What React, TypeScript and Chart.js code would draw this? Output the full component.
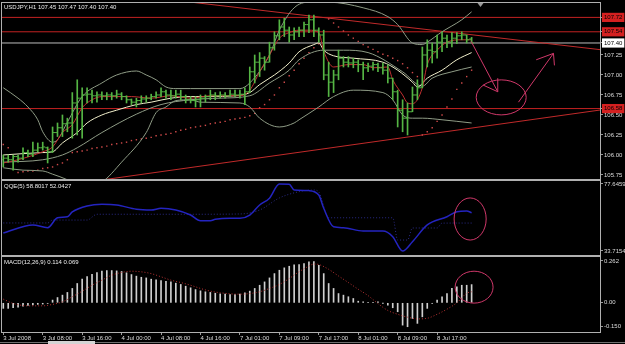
import React, { useEffect, useRef } from 'react';
import { Chart, registerables } from 'chart.js';

Chart.register(...registerables);

const FONT_FAMILY = "'Liberation Sans', Arial, sans-serif";
Chart.defaults.font.family = FONT_FAMILY;
Chart.defaults.font.size = 6;

// ---------------- time axis ----------------
const timeTickIdx = [0, 8, 16, 24, 32, 40, 48, 56, 64, 72, 80, 88];
const timeTickLabels = ['3 Jul 2008', '3 Jul 08:00', '3 Jul 16:00', '4 Jul 00:00', '4 Jul 08:00', '4 Jul 16:00', '7 Jul 01:00', '7 Jul 09:00', '7 Jul 17:00', '8 Jul 01:00', '8 Jul 09:00', '8 Jul 17:00'];
const xMin = -0.26;
const xMax = 121.04;

// ---------------- USDJPY H1 bars ----------------
const barOpen = [105.94, 105.96, 105.94, 105.98, 105.96, 106.03, 106.01, 106.06, 106.09, 106.09, 106.04, 106.28, 106.34, 106.39, 106.40, 106.65, 106.71, 106.75, 106.76, 106.74, 106.75, 106.74, 106.75, 106.74, 106.76, 106.73, 106.69, 106.66, 106.68, 106.70, 106.71, 106.73, 106.75, 106.79, 106.75, 106.74, 106.76, 106.73, 106.69, 106.68, 106.69, 106.71, 106.73, 106.75, 106.74, 106.75, 106.74, 106.76, 106.75, 106.76, 106.79, 107.04, 107.16, 107.21, 107.16, 107.34, 107.49, 107.60, 107.56, 107.50, 107.54, 107.56, 107.63, 107.69, 107.56, 107.50, 107.00, 106.91, 107.00, 107.21, 107.16, 107.15, 107.16, 107.13, 107.09, 107.11, 107.13, 107.09, 107.06, 106.96, 106.79, 106.56, 106.46, 106.54, 106.75, 106.84, 107.25, 107.31, 107.29, 107.41, 107.46, 107.41, 107.46, 107.49, 107.50, 107.45];
const barHigh = [106.00, 106.00, 106.00, 106.00, 106.09, 106.06, 106.16, 106.15, 106.16, 106.10, 106.35, 106.40, 106.50, 106.46, 106.78, 106.94, 106.84, 106.84, 106.81, 106.79, 106.79, 106.78, 106.78, 106.81, 106.78, 106.74, 106.70, 106.71, 106.74, 106.74, 106.76, 106.79, 106.84, 106.81, 106.81, 106.81, 106.81, 106.75, 106.73, 106.73, 106.75, 106.75, 106.81, 106.78, 106.79, 106.78, 106.81, 106.81, 106.81, 106.84, 107.10, 107.25, 107.28, 107.23, 107.41, 107.54, 107.69, 107.71, 107.60, 107.59, 107.60, 107.66, 107.75, 107.75, 107.59, 107.56, 107.16, 107.06, 107.31, 107.23, 107.23, 107.21, 107.19, 107.16, 107.15, 107.16, 107.15, 107.15, 107.13, 106.96, 106.81, 106.69, 106.65, 106.85, 106.94, 107.35, 107.44, 107.40, 107.50, 107.54, 107.50, 107.53, 107.53, 107.54, 107.50, 107.47];
const barLow = [105.85, 105.91, 105.81, 105.91, 105.94, 105.98, 105.98, 106.04, 106.06, 105.90, 106.03, 106.23, 106.23, 106.29, 106.21, 106.25, 106.21, 106.65, 106.65, 106.66, 106.69, 106.69, 106.69, 106.71, 106.69, 106.65, 106.63, 106.60, 106.65, 106.66, 106.69, 106.71, 106.73, 106.71, 106.69, 106.71, 106.69, 106.65, 106.65, 106.60, 106.60, 106.66, 106.69, 106.69, 106.71, 106.71, 106.73, 106.73, 106.71, 106.63, 106.78, 106.90, 106.98, 107.06, 107.16, 107.31, 107.44, 107.48, 107.41, 107.44, 107.48, 107.48, 107.53, 107.48, 107.41, 106.94, 106.73, 106.78, 106.94, 107.10, 107.10, 107.09, 107.04, 106.94, 107.04, 107.06, 107.04, 107.01, 106.90, 106.69, 106.35, 106.29, 106.25, 106.54, 106.69, 106.84, 107.10, 107.15, 107.21, 107.29, 107.34, 107.35, 107.39, 107.44, 107.40, 107.40];
const barClose = [105.96, 105.94, 105.98, 105.96, 106.03, 106.01, 106.06, 106.09, 106.10, 106.04, 106.28, 106.34, 106.39, 106.40, 106.65, 106.71, 106.75, 106.76, 106.74, 106.75, 106.74, 106.75, 106.74, 106.76, 106.73, 106.69, 106.66, 106.68, 106.70, 106.71, 106.73, 106.75, 106.79, 106.75, 106.74, 106.76, 106.73, 106.69, 106.68, 106.69, 106.71, 106.73, 106.75, 106.74, 106.75, 106.74, 106.76, 106.75, 106.76, 106.79, 107.04, 107.16, 107.21, 107.16, 107.34, 107.49, 107.60, 107.56, 107.50, 107.54, 107.56, 107.63, 107.69, 107.56, 107.50, 107.00, 106.91, 107.00, 107.21, 107.16, 107.15, 107.16, 107.13, 107.09, 107.11, 107.13, 107.09, 107.06, 106.96, 106.79, 106.56, 106.46, 106.54, 106.75, 106.84, 107.25, 107.31, 107.29, 107.41, 107.46, 107.41, 107.46, 107.49, 107.50, 107.44, 107.40];

// Parabolic SAR (one dot per bar, null = no dot)
const sarValues = [106.13, 106.09, null, 105.78, 105.79, 105.80, 105.80, 105.81, 105.83, 105.84, 105.85, 105.88, 105.90, 105.94, 106.03, 106.04, 106.05, 106.06, 106.08, 106.09, 106.10, 106.11, 106.13, 106.14, 106.15, 106.16, 106.18, 106.19, 106.20, 106.21, 106.22, 106.24, 106.25, 106.26, 106.27, 106.29, 106.31, 106.32, 106.34, 106.35, 106.36, 106.37, 106.39, 106.40, 106.41, 106.42, 106.44, 106.45, 106.46, 106.47, 106.49, 106.52, 106.59, 106.63, 106.69, 106.75, 106.84, 106.91, 106.99, 107.06, 107.14, 107.21, 107.28, 107.34, 107.39, null, 107.70, 107.65, 107.60, 107.55, 107.50, 107.46, 107.42, 107.38, 107.35, 107.32, 107.29, 107.26, 107.24, 107.21, 107.18, 107.14, 107.09, 107.03, 106.98, 106.25, 106.29, 106.34, 106.42, 106.50, 106.60, 106.70, 106.82, 106.90, 106.98, 107.06];

// moving averages / bands, read at sample bars
const fastMaIdx = [0, 3, 8, 10, 12, 14, 16, 18, 20, 26, 30, 34, 38, 42, 48, 50, 52, 54, 56, 58, 60, 62, 64, 65, 67, 70, 73, 75, 78, 79, 81, 82, 83, 85, 86, 88, 90, 93, 95];
const fastMaVal = [105.90, 105.94, 106.04, 106.10, 106.28, 106.38, 106.59, 106.69, 106.73, 106.73, 106.71, 106.74, 106.71, 106.74, 106.74, 106.81, 107.04, 107.25, 107.46, 107.53, 107.56, 107.56, 107.53, 107.30, 107.10, 107.13, 107.13, 107.09, 107.10, 106.94, 106.75, 106.65, 106.64, 106.84, 107.13, 107.31, 107.41, 107.44, 107.44];
const slowMaIdx = [0, 8, 10, 12, 15, 17, 20, 23, 27, 30, 34, 38, 42, 47, 50, 52, 55, 58, 60, 63, 64, 65, 67, 71, 77, 80, 83, 84, 86, 89, 92, 95];
const slowMaVal = [106.00, 106.03, 106.04, 106.15, 106.28, 106.40, 106.50, 106.56, 106.63, 106.66, 106.71, 106.73, 106.73, 106.74, 106.78, 106.88, 107.00, 107.15, 107.29, 107.38, 107.40, 107.31, 107.24, 107.21, 107.16, 107.06, 106.91, 106.85, 106.96, 107.06, 107.19, 107.28];
const bbMidIdx = [0, 8, 12, 15, 20, 27, 32, 38, 44, 50, 54, 58, 60, 65, 69, 74, 81, 85, 87, 91, 95];
const bbMidVal = [105.91, 105.94, 106.00, 106.09, 106.28, 106.51, 106.63, 106.69, 106.71, 106.74, 106.90, 107.06, 107.19, 107.31, 107.31, 107.28, 107.04, 106.86, 106.96, 107.04, 107.10];
const bbUpIdx = [0, 3, 5, 7, 8, 10, 11, 13, 16, 20, 23, 27, 29, 31, 33, 35, 38, 48, 50, 54, 56, 59, 62, 66, 73, 78, 80, 83, 85, 86, 89, 93, 95];
const bbUpVal = [106.84, 106.71, 106.60, 106.44, 106.29, 106.16, 106.19, 106.41, 106.73, 106.90, 107.00, 107.05, 107.00, 106.94, 106.85, 106.83, 106.83, 106.83, 106.90, 107.25, 107.56, 107.84, 107.91, 107.91, 107.84, 107.73, 107.63, 107.40, 107.38, 107.41, 107.54, 107.69, 107.79];
const bbLowIdx = [0, 4, 8, 10, 13, 16, 20, 24, 29, 31, 33, 35, 38, 40, 48, 50, 52, 56, 59, 60, 64, 67, 71, 77, 79, 81, 83, 85, 89, 95];
const bbLowVal = [105.84, 105.81, 105.80, 105.76, 105.69, 105.59, 105.66, 105.91, 106.28, 106.53, 106.60, 106.68, 106.69, 106.66, 106.65, 106.60, 106.46, 106.35, 106.40, 106.44, 106.60, 106.73, 106.81, 106.78, 106.69, 106.50, 106.46, 106.46, 106.44, 106.40];

// drawn objects
const trendDownIdx = [20, 122];
const trendDownVal = [108.04, 107.31];
const trendUpIdx = [18, 122];
const trendUpVal = [105.67, 106.57];
const redLevels = [107.72, 107.54, 106.58];
const bidLevel = 107.40;
const priceTicks = [107.72, 107.54, 107.40, 107.25, 107.00, 106.75, 106.58, 106.50, 106.25, 106.00, 105.75];
const arrowDownPath = [[94.9, 107.42], [100.3, 106.79]];
const arrowDownHead = [[97.3, 106.875], [100.3, 106.79], [100.3, 106.96]];
const arrowUpPath = [[104.5, 106.66], [111.6, 107.27]];
const arrowUpHead = [[108.1, 107.19], [111.6, 107.27], [111.8, 107.12]];
const mainEllipse = { cx: 101.0, cy: 106.72, rx: 5.07, ry: 0.219 };

// ---------------- QQE(5) ----------------
const qqeIdx = [0, 6, 9, 11, 13, 14, 17, 20, 23, 27, 30, 32, 35, 38, 40, 42, 43, 46, 48, 50, 52, 54, 56, 58, 59, 62, 64, 65, 67, 69, 73, 77, 79, 81, 83, 86, 90, 92, 94, 95];
const qqeVal = [45.5, 50.8, 49.0, 55.5, 56.2, 59.3, 63.2, 64.3, 63.9, 61.1, 60.6, 61.7, 60.6, 57.3, 53.6, 53.6, 54.5, 55.2, 55.2, 57.3, 63.9, 68.3, 77.6, 77.4, 73.7, 73.3, 70.4, 61.7, 49.6, 49.0, 46.8, 46.8, 43.1, 33.7, 39.8, 50.8, 56.2, 59.5, 59.9, 58.8];
const qqeTrailIdx = [0, 9, 10, 17, 19, 37, 48, 52, 56, 60, 63, 64, 66, 79, 80, 82, 83, 88, 89, 95];
const qqeTrailVal = [52.1, 52.1, 54.0, 54.0, 57.8, 57.8, 58.0, 60.6, 68.5, 72.6, 73.7, 72.4, 55.5, 55.5, 40.9, 40.9, 48.8, 48.8, 52.0, 52.04];
const qqeTicks = [77.6459, 33.7154];
const qqeEllipse = { cx: 94.7, cy: 54.7, rx: 3.25, ry: 13.8 };

// ---------------- MACD(12,26,9) ----------------
const macdHist = [-0.035, -0.035, -0.031, -0.027, -0.021, -0.017, -0.013, -0.010, -0.008, -0.004, 0.017, 0.033, 0.048, 0.065, 0.090, 0.121, 0.148, 0.165, 0.179, 0.190, 0.198, 0.202, 0.202, 0.200, 0.196, 0.188, 0.177, 0.167, 0.160, 0.156, 0.148, 0.144, 0.140, 0.135, 0.131, 0.123, 0.115, 0.104, 0.094, 0.083, 0.075, 0.069, 0.065, 0.060, 0.056, 0.054, 0.052, 0.052, 0.054, 0.063, 0.073, 0.090, 0.110, 0.131, 0.156, 0.183, 0.204, 0.219, 0.229, 0.238, 0.240, 0.246, 0.256, 0.258, 0.235, 0.183, 0.121, 0.090, 0.058, 0.048, 0.038, 0.027, 0.010, 0.006, 0.002, 0.002, 0.006, -0.002, -0.015, -0.031, -0.056, -0.140, -0.150, -0.098, -0.129, -0.088, -0.035, -0.004, 0.017, 0.038, 0.058, 0.090, 0.100, 0.110, 0.110, 0.114];
const macdSigIdx = [0, 2, 5, 8, 10, 12, 14, 16, 18, 20, 22, 24, 26, 28, 30, 32, 34, 36, 38, 40, 42, 44, 46, 48, 50, 52, 54, 56, 58, 60, 62, 63, 64, 66, 68, 70, 72, 74, 76, 78, 80, 82, 84, 86, 88, 90, 92, 94, 95];
const macdSigVal = [0.023, -0.004, -0.019, -0.019, -0.010, 0.006, 0.038, 0.073, 0.110, 0.142, 0.173, 0.190, 0.198, 0.194, 0.183, 0.163, 0.142, 0.127, 0.110, 0.090, 0.073, 0.063, 0.056, 0.054, 0.058, 0.069, 0.090, 0.115, 0.152, 0.195, 0.230, 0.243, 0.240, 0.210, 0.168, 0.127, 0.085, 0.045, -0.005, -0.048, -0.072, -0.090, -0.101, -0.097, -0.072, -0.040, 0.000, 0.060, 0.069];
const macdTicks = [0.262, 0, -0.15];
const macdTickLabels = ['0.262', '0.00', '-0.150'];
const macdEllipse = { cx: 95.5, cy: 0.098, rx: 3.85, ry: 0.10 };

const mainTitle = 'USDJPY,H1 107.45 107.47 107.40 107.40';
const qqeTitle = 'QQE(5) 58.8017 52.0427';
const macdTitle = 'MACD(12,26,9) 0.114 0.069';

// ---------------- styling ----------------
const GREEN = '#55b544';
const PINK = '#d0386a';
const FRAME = '#b0b0b0';
const AXIS_TEXT = '#dcdcdc';

const barIdx = barClose.map((_, i) => i);
const pts = (xs: number[], ys: (number | null)[]) => xs.map((x, i) => ({ x, y: ys[i] }));

const panelPlugin = {
  id: 'panel',
  beforeDraw(chart: any) {
    const { ctx, width, height } = chart;
    ctx.save();
    ctx.fillStyle = '#000';
    ctx.fillRect(0, 0, width, height);
    ctx.restore();
  },
  afterDraw(chart: any, _args: any, opts: any) {
    const { ctx, chartArea: a } = chart;
    ctx.save();
    ctx.strokeStyle = FRAME;
    ctx.lineWidth = 1;
    ctx.strokeRect(a.left - 0.5, a.top - 0.5, a.right - a.left + 1, a.bottom - a.top + 1);
    ctx.fillStyle = '#ececec';
    ctx.font = `6px ${FONT_FAMILY}`;
    ctx.textBaseline = 'middle';
    ctx.textAlign = 'left';
    ctx.fillText(opts.title, a.left + 2, a.top + opts.titleDy);
    ctx.restore();
  },
};

const annotPlugin = {
  id: 'annot',
  afterDatasetsDraw(chart: any, _args: any, opts: any) {
    const { ctx, chartArea: a, scales } = chart;
    const xs = scales.x;
    const ys = scales.y;
    ctx.save();
    ctx.beginPath();
    ctx.rect(a.left, a.top, a.right - a.left, a.bottom - a.top);
    ctx.clip();
    ctx.strokeStyle = PINK;
    ctx.lineWidth = 1;
    (opts.ellipses || []).forEach((e: any) => {
      const cx = xs.getPixelForValue(e.cx);
      const cy = ys.getPixelForValue(e.cy);
      const rx = Math.abs(xs.getPixelForValue(e.cx + e.rx) - cx);
      const ry = Math.abs(ys.getPixelForValue(e.cy + e.ry) - cy);
      ctx.beginPath();
      ctx.ellipse(cx, cy, rx, ry, 0, 0, Math.PI * 2);
      ctx.stroke();
    });
    (opts.paths || []).forEach((p: number[][]) => {
      ctx.beginPath();
      p.forEach(([x, y], i) => {
        const px = xs.getPixelForValue(x);
        const py = ys.getPixelForValue(y);
        if (i === 0) ctx.moveTo(px, py); else ctx.lineTo(px, py);
      });
      ctx.stroke();
    });
    if (opts.marker != null) {
      const mx = xs.getPixelForValue(opts.marker);
      ctx.fillStyle = '#9a9a9a';
      ctx.beginPath();
      ctx.moveTo(mx - 3, a.top);
      ctx.lineTo(mx + 3, a.top);
      ctx.lineTo(mx, a.top + 4);
      ctx.closePath();
      ctx.fill();
    }
    ctx.restore();
  },
};

function xAxis(show: boolean): any {
  return {
    type: 'linear',
    min: xMin,
    max: xMax,
    display: show,
    offset: false,
    afterBuildTicks: (s: any) => { s.ticks = timeTickIdx.map((v) => ({ value: v })); },
    afterFit: (s: any) => { s.height = show ? 10 : 0; s.paddingLeft = 0; s.paddingRight = 0; },
    grid: { display: true, drawOnChartArea: false, drawTicks: true, tickLength: 3, color: '#9a9a9a', offset: false },
    border: { display: false },
    ticks: {
      autoSkip: false, maxRotation: 0, minRotation: 0, align: 'start', padding: 0, color: AXIS_TEXT,
      font: { family: FONT_FAMILY, size: 6 },
      callback: (v: number) => { const i = timeTickIdx.indexOf(v); return i >= 0 ? timeTickLabels[i] : ''; },
    },
  };
}

function yAxis(min: number, max: number, values: number[], fmt: (v: number) => string, box?: (v: number) => string | null): any {
  return {
    type: 'linear',
    position: 'right',
    min,
    max,
    afterBuildTicks: (s: any) => { s.ticks = values.map((v) => ({ value: v })); },
    afterFit: (s: any) => { s.width = 25; s.paddingTop = 0; s.paddingBottom = 0; },
    grid: { display: true, drawOnChartArea: false, drawTicks: true, tickLength: 3, color: '#9a9a9a' },
    border: { display: true, color: FRAME },
    ticks: {
      autoSkip: false,
      padding: 1,
      font: { family: FONT_FAMILY, size: 6 },
      callback: (v: number) => fmt(v),
      color: (c: any) => (box && box(c.tick.value) ? '#000' : AXIS_TEXT),
      showLabelBackdrop: (c: any) => !!(box && box(c.tick.value)),
      backdropColor: (c: any) => (box && box(c.tick.value)) || 'rgba(0,0,0,0)',
      backdropPadding: { top: 1, bottom: 1, left: 2, right: 2 },
    },
  };
}

const lineDs = (data: any[], color: string, width = 1, dash: number[] = []) => ({
  type: 'line', data, borderColor: color, borderWidth: width, borderDash: dash,
  pointRadius: 0, pointHoverRadius: 0, fill: false, cubicInterpolationMode: 'monotone',
});

const baseOptions = (padding: any) => ({
  responsive: false,
  maintainAspectRatio: false,
  animation: false,
  events: [],
  layout: { autoPadding: false, padding },
  plugins: { legend: { display: false }, tooltip: { enabled: false } },
});

function mainConfig(): any {
  const hline = (v: number) => [{ x: -5, y: v }, { x: 130, y: v }];
  const boxColor = (v: number) => (redLevels.some((r) => Math.abs(r - v) < 1e-6) ? '#d42020' : Math.abs(v - bidLevel) < 1e-6 ? '#ffffff' : null);
  return {
    type: 'line',
    data: {
      datasets: [
        { type: 'bar', data: barIdx.map((i) => ({ x: i, y: [barLow[i], barHigh[i]] })), backgroundColor: GREEN, borderWidth: 0, barThickness: 1 },
        { type: 'line', data: barIdx.map((i) => ({ x: i - 0.3, y: barOpen[i] })), showLine: false, pointStyle: 'line', pointRadius: 1, pointBorderWidth: 1, pointBorderColor: GREEN, borderColor: GREEN },
        { type: 'line', data: barIdx.map((i) => ({ x: i + 0.3, y: barClose[i] })), showLine: false, pointStyle: 'line', pointRadius: 1, pointBorderWidth: 1, pointBorderColor: GREEN, borderColor: GREEN },
        lineDs(pts(fastMaIdx, fastMaVal), '#c23030', 1),
        lineDs(pts(slowMaIdx, slowMaVal), '#f2f0cc', 1),
        lineDs(pts(bbMidIdx, bbMidVal), '#8f9c86', 1),
        lineDs(pts(bbUpIdx, bbUpVal), '#8f9c86', 1),
        lineDs(pts(bbLowIdx, bbLowVal), '#8f9c86', 1),
        { type: 'line', data: pts(barIdx, sarValues), showLine: false, pointStyle: 'rect', pointRadius: 1, pointBorderWidth: 0, pointBackgroundColor: '#d04a4a', borderColor: '#d04a4a' },
        lineDs(pts(trendDownIdx, trendDownVal), '#c02a2a', 1),
        lineDs(pts(trendUpIdx, trendUpVal), '#c02a2a', 1),
        ...redLevels.map((v) => lineDs(hline(v), '#c42222', 1)),
        lineDs(hline(bidLevel), '#bdbdbd', 1),
      ],
    },
    options: {
      ...baseOptions({ left: 2, top: 3, bottom: 1, right: 0 }),
      scales: {
        x: xAxis(false),
        y: yAxis(105.6995, 107.9, priceTicks, (v) => v.toFixed(2), boxColor),
      },
      plugins: {
        legend: { display: false },
        tooltip: { enabled: false },
        panel: { title: mainTitle, titleDy: 4 },
        annot: { ellipses: [mainEllipse], paths: [arrowDownPath, arrowDownHead, arrowUpPath, arrowUpHead], marker: 96.8 },
      },
    },
    plugins: [panelPlugin, annotPlugin],
  };
}

function qqeConfig(): any {
  return {
    type: 'line',
    data: {
      datasets: [
        lineDs(pts(qqeIdx, qqeVal), '#2424c0', 1.5),
        lineDs(pts(qqeTrailIdx, qqeTrailVal), '#2a2a86', 1, [1, 2]),
      ],
    },
    options: {
      ...baseOptions({ left: 2, top: 1, bottom: 2, right: 0 }),
      scales: {
        x: xAxis(false),
        y: yAxis(31.09, 79.61, qqeTicks, (v) => v.toFixed(4)),
      },
      plugins: {
        legend: { display: false },
        tooltip: { enabled: false },
        panel: { title: qqeTitle, titleDy: 5 },
        annot: { ellipses: [qqeEllipse], paths: [] },
      },
    },
    plugins: [panelPlugin, annotPlugin],
  };
}

function macdConfig(): any {
  return {
    type: 'line',
    data: {
      datasets: [
        lineDs(pts(macdSigIdx, macdSigVal), '#b83232', 1, [1, 2]),
        { type: 'bar', data: barIdx.map((i) => ({ x: i, y: macdHist[i] })), backgroundColor: '#cfcfcf', borderWidth: 0, barThickness: 1 },
      ],
    },
    options: {
      ...baseOptions({ left: 2, top: 1, bottom: 2, right: 0 }),
      scales: {
        x: xAxis(true),
        y: yAxis(-0.183, 0.287, macdTicks, (v) => { const i = macdTicks.indexOf(v); return i >= 0 ? macdTickLabels[i] : ''; }),
      },
      plugins: {
        legend: { display: false },
        tooltip: { enabled: false },
        panel: { title: macdTitle, titleDy: 5 },
        annot: { ellipses: [macdEllipse], paths: [] },
      },
    },
    plugins: [panelPlugin, annotPlugin],
  };
}

export default function App() {
  const mainRef = useRef<HTMLCanvasElement>(null);
  const qqeRef = useRef<HTMLCanvasElement>(null);
  const macdRef = useRef<HTMLCanvasElement>(null);

  useEffect(() => {
    const charts = [
      new Chart(mainRef.current as HTMLCanvasElement, mainConfig()),
      new Chart(qqeRef.current as HTMLCanvasElement, qqeConfig()),
      new Chart(macdRef.current as HTMLCanvasElement, macdConfig()),
    ];
    return () => charts.forEach((c) => c.destroy());
  }, []);

  return (
    <div style={{ position: 'fixed', left: 0, top: 0, width: 625, height: 344, background: '#000', overflow: 'hidden' }}>
      <canvas ref={mainRef} width={625} height={180} style={{ position: 'absolute', left: 0, top: 0 }} />
      <canvas ref={qqeRef} width={625} height={77} style={{ position: 'absolute', left: 0, top: 180 }} />
      <canvas ref={macdRef} width={625} height={88} style={{ position: 'absolute', left: 0, top: 256 }} />
      <div style={{ position: 'absolute', left: 0, top: 342, width: 625, height: 1, background: '#6e6e6e' }} />
      <div style={{ position: 'absolute', left: 48, top: 341, width: 47, height: 3, background: '#d4d4d4' }} />
    </div>
  );
}
